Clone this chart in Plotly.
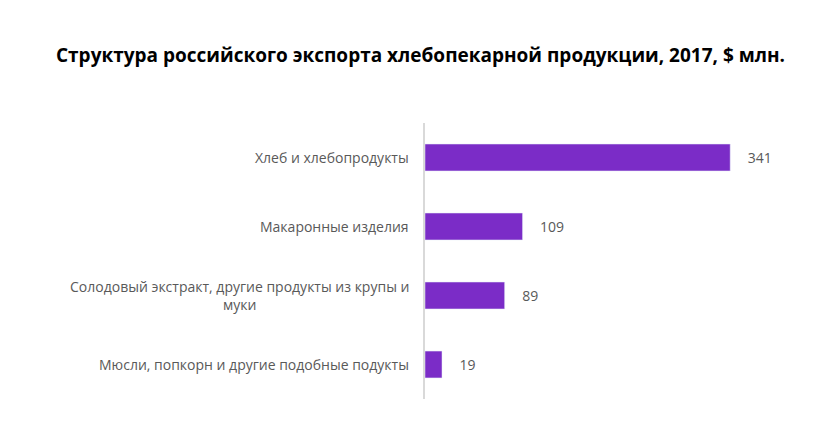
import plotly.graph_objects as go

# data
categories = [
    "Хлеб и хлебопродукты",
    "Макаронные изделия",
    "Солодовый экстракт, другие продукты из крупы и<br>муки",
    "Мюсли, попкорн и другие подобные подукты",
]
values = [341, 109, 89, 19]

title_text = "Структура российского экспорта хлебопекарной продукции, 2017, $ млн."

fig = go.Figure()

fig.add_trace(go.Bar(
    x=values,
    y=categories,
    orientation="h",
    marker=dict(color="#7b2cc7"),
    text=values,
    texttemplate="    %{text}",
    textposition="outside",
    textfont=dict(family="Open Sans", size=14, color="#595959"),
    cliponaxis=False,
    hoverinfo="skip",
))

# category labels as annotations so the wrapped one is centered
for cat in categories:
    fig.add_annotation(
        x=0, y=cat, xref="paper", yref="y",
        text=cat, showarrow=False,
        xanchor="right", xshift=-14, align="center",
        font=dict(family="Open Sans", size=14, color="#595959"),
    )

fig.update_layout(
    width=830, height=430,
    paper_bgcolor="white", plot_bgcolor="white",
    margin=dict(l=417, r=38, t=115, b=39),
    showlegend=False,
    bargap=0.61,
    title=dict(
        text="<b>" + title_text + "</b>",
        x=0.497, xanchor="center", y=0.89, yanchor="middle",
        font=dict(family="Open Sans", size=19, color="#000000"),
    ),
)

fig.update_xaxes(range=[0, 419], visible=False)
fig.update_yaxes(
    autorange="reversed",
    showticklabels=False,
    showgrid=False,
    showline=True, linecolor="#d9d9d9", linewidth=2,
    ticks="",
)

fig.write_html("out.html")
